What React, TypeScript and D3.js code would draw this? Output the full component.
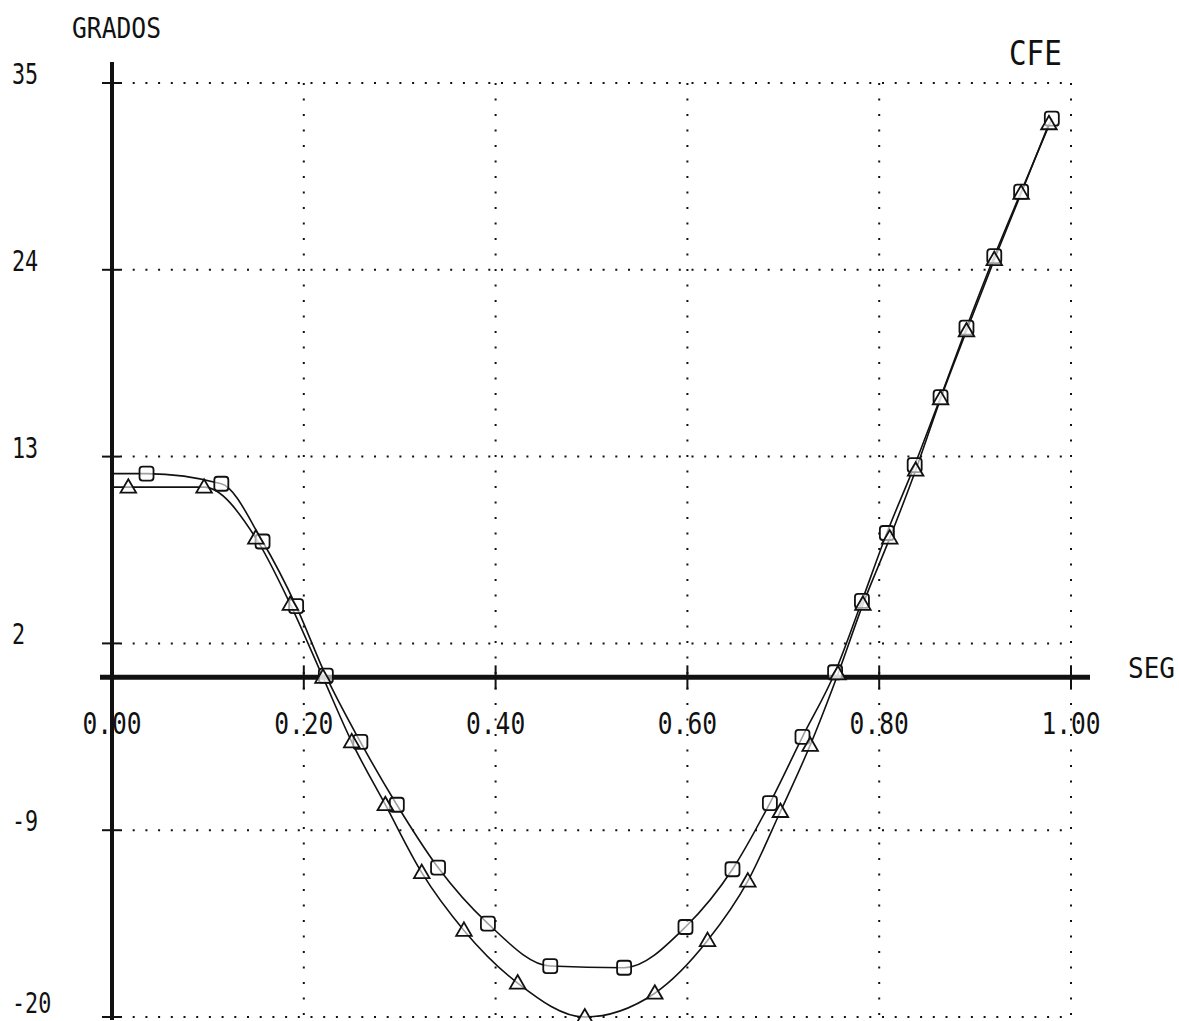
import React from "react";
import * as d3 from "d3";

const xTicks = [0, 0.2, 0.4, 0.6, 0.8, 1.0];
const xTickLabels = ["0.00", "0.20", "0.40", "0.60", "0.80", "1.00"];
const yTicks = [35, 24, 13, 2, -9, -20];
const yTickLabels = ["35", "24", "13", "2", "-9", "-20"];

// Series with square markers (upper curve)
const squareStart = 12.0;
const squareT = [0.036, 0.114, 0.157, 0.192, 0.223, 0.259, 0.297, 0.34, 0.392, 0.457, 0.534, 0.598, 0.647, 0.686, 0.72, 0.754, 0.782, 0.808, 0.837, 0.864, 0.891, 0.92, 0.948, 0.98];
const squareV = [12.0, 11.4, 8.0, 4.2, 0.1, -3.8, -7.5, -11.2, -14.5, -17.0, -17.1, -14.7, -11.3, -7.4, -3.5, 0.3, 4.5, 8.5, 12.5, 16.5, 20.6, 24.8, 28.6, 32.9];

// Series with triangle markers (lower curve)
const triStart = 11.2;
const triT = [0.017, 0.096, 0.15, 0.186, 0.22, 0.25, 0.285, 0.323, 0.367, 0.423, 0.493, 0.566, 0.621, 0.663, 0.697, 0.728, 0.757, 0.783, 0.811, 0.838, 0.864, 0.891, 0.92, 0.948, 0.977];
const triV = [11.2, 11.2, 8.2, 4.3, 0.0, -3.8, -7.5, -11.5, -14.9, -18.0, -20.0, -18.6, -15.5, -12.0, -7.9, -4.0, 0.2, 4.3, 8.2, 12.2, 16.4, 20.4, 24.6, 28.5, 32.6];

const W = 1179;
const H = 1021;
const FONT = "'DejaVu Sans Mono', monospace";
const INK = "#111";

function Label({ x, y, text, size, sx, anchor = "start" }: { x: number; y: number; text: string; size: number; sx: number; anchor?: string }) {
  return (
    <text
      transform={`translate(${x},${y}) scale(${sx},1)`}
      fontFamily={FONT}
      fontSize={size}
      textAnchor={anchor as any}
      fill={INK}
    >
      {text}
    </text>
  );
}

export default function App() {
  const x = d3.scaleLinear().domain([0, 1]).range([112, 1071]);
  const y = d3.scaleLinear().domain([-20, 35]).range([1017, 83]);

  const line = d3
    .line<[number, number]>()
    .x((d) => x(d[0]))
    .y((d) => y(d[1]))
    .curve(d3.curveMonotoneX);

  const sqPts: [number, number][] = [[0, squareStart], ...squareT.map((t, i) => [t, squareV[i]] as [number, number])];
  const trPts: [number, number][] = [[0, triStart], ...triT.map((t, i) => [t, triV[i]] as [number, number])];

  const tri = d3.symbol().type(d3.symbolTriangle).size(105)();

  return (
    <svg width={W} height={H} style={{ position: "absolute", left: 0, top: 0, background: "#fff" }}>
      <rect width={W} height={H} fill="#fff" />
      {/* horizontal dotted grid */}
      {yTicks.map((v) => (
        <line key={"hg" + v} x1={x(0) + 8} x2={x(1)} y1={y(v)} y2={y(v)} stroke={INK} strokeWidth={2} strokeDasharray="2 10.7" />
      ))}
      {/* vertical dotted grid */}
      {xTicks.slice(1).map((v) => (
        <line key={"vg" + v} x1={x(v)} x2={x(v)} y1={y(35)} y2={y(-20)} stroke={INK} strokeWidth={2} strokeDasharray="2 13.5" />
      ))}
      {/* axes */}
      <line x1={x(0)} x2={x(0)} y1={62} y2={1020} stroke={INK} strokeWidth={4} />
      <line x1={100} x2={1090} y1={y(0)} y2={y(0)} stroke={INK} strokeWidth={5} />
      {/* y ticks */}
      {yTicks.map((v) => (
        <line key={"yt" + v} x1={x(0) - 10} x2={x(0) + 8} y1={y(v)} y2={y(v)} stroke={INK} strokeWidth={2} />
      ))}
      {/* x ticks */}
      {xTicks.slice(1).map((v) => (
        <line key={"xt" + v} x1={x(v)} x2={x(v)} y1={y(0) - 12} y2={y(0) + 12} stroke={INK} strokeWidth={2} />
      ))}
      {/* curves */}
      <path d={line(sqPts) || ""} fill="none" stroke={INK} strokeWidth={1.6} />
      <path d={line(trPts) || ""} fill="none" stroke={INK} strokeWidth={1.6} />
      {/* markers */}
      {squareT.map((t, i) => (
        <rect key={"sq" + i} x={x(t) - 7} y={y(squareV[i]) - 7} width={14} height={14} rx={3} fill="#fff" fillOpacity={0.6} stroke={INK} strokeWidth={1.8} />
      ))}
      {triT.map((t, i) => (
        <path key={"tr" + i} d={tri || ""} transform={`translate(${x(t)},${y(triV[i]) + 1})`} fill="#fff" fillOpacity={0.6} stroke={INK} strokeWidth={1.8} />
      ))}
      {/* y tick labels */}
      {yTicks.map((v, i) => (
        <Label key={"yl" + v} x={12} y={Math.min(y(v) + 1, H - 8)} text={yTickLabels[i]} size={29} sx={0.75} />
      ))}
      {/* x tick labels */}
      {xTicks.map((v, i) => (
        <Label key={"xl" + v} x={x(v)} y={y(0) + 57} text={xTickLabels[i]} size={30} sx={0.82} anchor="middle" />
      ))}
      <Label x={72} y={38} text="GRADOS" size={28} sx={0.88} />
      <Label x={1128} y={678} text="SEG" size={28} sx={0.93} />
      <Label x={1009} y={65} text="CFE" size={34} sx={0.86} />
    </svg>
  );
}
